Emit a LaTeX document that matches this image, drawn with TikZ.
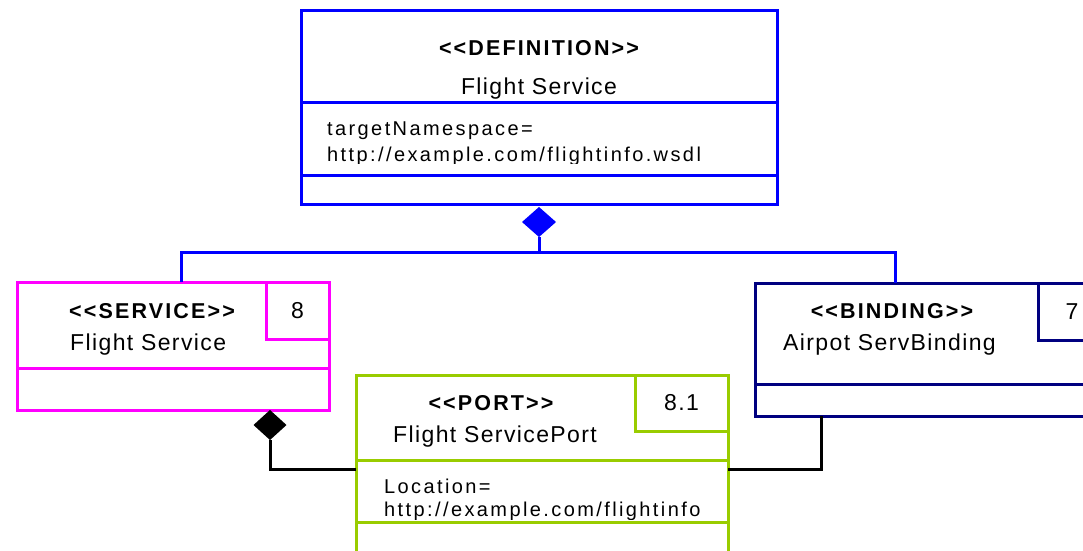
\documentclass[tikz,border=0pt]{standalone}
\usepackage{fontspec}
\setmainfont{Liberation Sans}[Ligatures=TeXOff]
\newfontfamily\namefont{Liberation Sans}[Ligatures=TeXOff, LetterSpace=6]
\newfontfamily\attrfont{Liberation Sans}[Ligatures=TeXOff, LetterSpace=12]
\newfontfamily\stfont{Liberation Sans}[Ligatures=TeXOff, LetterSpace=10]
\usetikzlibrary{shapes.geometric}
\definecolor{pblue}{RGB}{0,0,255}
\definecolor{pmag}{RGB}{255,0,255}
\definecolor{pgreen}{RGB}{153,204,0}
\definecolor{pnavy}{RGB}{0,0,128}
\begin{document}
\begin{tikzpicture}[x=1pt,y=-1pt,
  box/.style={draw, line width=3pt, inner sep=0pt, outer sep=0pt, anchor=north west},
  tagbox/.style={draw, line width=3pt, inner sep=0pt, outer sep=0pt, anchor=north east, font=\namefont\fontsize{23}{26}\selectfont},
  divider/.style={line width=3pt},
  stereo/.style={font=\stfont\fontsize{21.5}{24}\selectfont\bfseries, anchor=base, inner sep=0pt},
  cname/.style={font=\namefont\fontsize{23}{26}\selectfont, anchor=base west, inner sep=0pt},
  attr/.style={font=\attrfont\fontsize{20}{24}\selectfont, anchor=base west, inner sep=0pt},
  comp/.style={diamond, inner sep=0pt, outer sep=0pt, minimum width=34pt, minimum height=30pt, anchor=north},
  conn/.style={line width=3pt}]
\clip (0,0) rectangle (1083,550);
\fill[white] (0,0) rectangle (1083,550);

% Definition
\node[box, draw=pblue, minimum width=476pt, minimum height=194pt] (def) at (301,10) {};
\draw[divider, pblue] (301,102) -- (777,102);
\draw[divider, pblue] (301,175) -- (777,175);
\node[stereo] (defst) at (539,55) {<<DEFINITION>>};
\node[cname, anchor=base] (defnm) at (539,94) {Flight Service};
\node[attr] (defa1) at (327,135) {targetNamespace=};
\begin{scope}
\clip (301,104) rectangle (777,163);
\node[attr] (defa2) at (327,161) {http://example.com/flightinfo.wsdl};
\end{scope}

% Service
\node[box, draw=pmag, minimum width=312pt, minimum height=128pt] (svc) at (17,282) {};
\draw[divider, pmag] (17,368) -- (329,368);
\node[tagbox, draw=pmag, minimum width=63pt, minimum height=57pt] (svctag) at (svc.north east) {8};
\node[stereo] (svcst) at (152,318) {<<SERVICE>>};
\node[cname] (svcnm) at (70,350) {Flight Service};

% Binding
\node[box, draw=pnavy, minimum width=351pt, minimum height=133pt] (bind) at (755,283) {};
\draw[divider, pnavy] (755,384) -- (1106,384);
\node[tagbox, draw=pnavy, minimum width=68pt, minimum height=57pt] (bindtag) at (bind.north east) {7};
\node[stereo] (bindst) at (892,318) {<<BINDING>>};
\node[cname] (bindnm) at (783,350) {Airpot ServBinding};

% Port
\node[box, draw=pgreen, minimum width=372pt, minimum height=188pt] (port) at (356,375) {};
\draw[divider, pgreen] (356,460) -- (728,460);
\draw[divider, pgreen] (356,522) -- (728,522);
\node[tagbox, draw=pgreen, minimum width=93pt, minimum height=56pt] (porttag) at (port.north east) {8.1};
\node[stereo] (portst) at (491,410) {<<PORT>>};
\node[cname] (portnm) at (393,442) {Flight ServicePort};
\node[attr] (porta1) at (384,493) {Location=};
\begin{scope}
\clip (356,462) rectangle (728,519);
\node[attr] (porta2) at (384,516) {http://example.com/flightinfo};
\end{scope}

% Composition: definition -> service, binding
\node[comp, fill=pblue] (dia1) at ([yshift=-3pt]def.south) {};
\coordinate (j1) at (539,252);
\coordinate (svcin) at (181,282);
\coordinate (bindin) at (895,283);
\draw[conn, pblue] (dia1.south) -- (j1);
\draw[conn, pblue] (svcin) -- (svcin |- j1) -- (bindin |- j1) -- (bindin);

% Composition: service -> port, binding -> port
\node[comp, fill=black, minimum width=33pt] (dia2) at (270,410) {};
\coordinate (bindout) at (821,416);
\draw[conn, black] (dia2.south) |- (port.west);
\draw[conn, black] (bindout) |- (port.east);
\end{tikzpicture}
\end{document}
